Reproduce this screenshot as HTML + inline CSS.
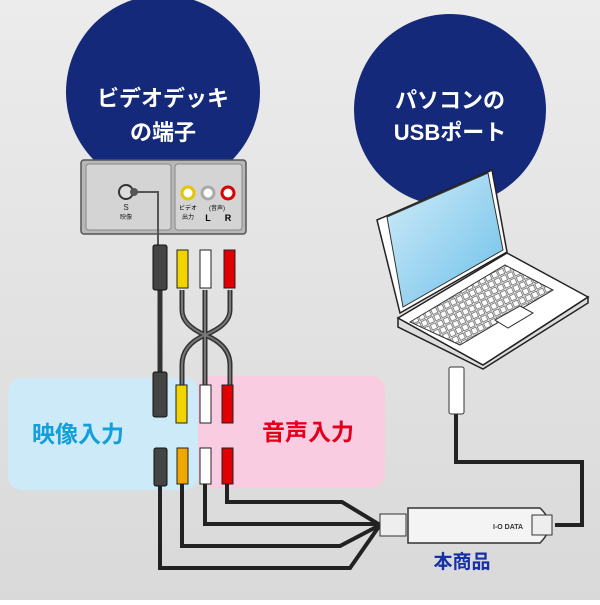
<!DOCTYPE html>
<html><head><meta charset="utf-8"><style>
html,body{margin:0;padding:0}
body{width:600px;height:600px;overflow:hidden;font-family:"Liberation Sans","Noto Sans CJK JP",sans-serif}
</style></head><body>
<svg width="600" height="600" viewBox="0 0 600 600" xmlns="http://www.w3.org/2000/svg" font-family="Liberation Sans, Noto Sans CJK JP, sans-serif">
<defs>
<linearGradient id="bg" x1="0" y1="0" x2="0" y2="1"><stop offset="0" stop-color="#ececec"/><stop offset="1" stop-color="#d9d9d9"/></linearGradient>
<linearGradient id="scr" x1="0" y1="0" x2="1" y2="1"><stop offset="0" stop-color="#d2ecf8"/><stop offset="1" stop-color="#6cc0ea"/></linearGradient>
<pattern id="kb" width="7" height="7" patternUnits="userSpaceOnUse" patternTransform="rotate(-25)"><rect width="7" height="7" fill="#fff"/><rect x="0.5" y="0.5" width="5.5" height="5.5" fill="none" stroke="#333" stroke-width="0.6"/></pattern>
</defs>
<rect width="600" height="600" fill="url(#bg)"/>
<circle cx="163" cy="92" r="97" fill="#15297a"/>
<circle cx="450" cy="110" r="96" fill="#15297a"/>
<text x="163" y="106" font-size="22" font-weight="bold" fill="#fff" text-anchor="middle">ビデオデッキ</text>
<text x="163" y="140" font-size="22" font-weight="bold" fill="#fff" text-anchor="middle">の端子</text>
<text x="450" y="108" font-size="22" font-weight="bold" fill="#fff" text-anchor="middle">パソコンの</text>
<text x="450" y="140" font-size="22" font-weight="bold" fill="#fff" text-anchor="middle">USBポート</text>
<!-- panel -->
<rect x="81" y="160" width="165" height="74" rx="3" fill="#b7b7b7" stroke="#555" stroke-width="1.5"/>
<rect x="86" y="164" width="85" height="66" rx="3" fill="#d4d4d4" stroke="#888"/>
<rect x="175" y="164" width="67" height="66" rx="3" fill="#d4d4d4" stroke="#888"/>
<circle cx="126" cy="192" r="7" fill="#ddd" stroke="#333" stroke-width="2"/>
<circle cx="134" cy="192" r="4" fill="#555"/>
<path d="M134 192 H158 V245" fill="none" stroke="#555" stroke-width="2"/>
<text x="126" y="210" font-size="8" text-anchor="middle" fill="#222">S</text>
<text x="126" y="219" font-size="6" text-anchor="middle" fill="#222">映像</text>
<circle cx="188" cy="193" r="6" fill="#fff" stroke="#e5c400" stroke-width="3"/>
<circle cx="208" cy="193" r="6" fill="#fff" stroke="#aaa" stroke-width="3"/>
<circle cx="228" cy="193" r="6" fill="#fff" stroke="#d00" stroke-width="3"/>
<text x="188" y="210" font-size="6" text-anchor="middle">ビデオ</text>
<text x="188" y="219" font-size="6" text-anchor="middle">出力</text>
<text x="217" y="210" font-size="6" text-anchor="middle">(音声)</text>
<text x="208" y="221" font-size="9" font-weight="bold" text-anchor="middle">L</text>
<text x="228" y="221" font-size="9" font-weight="bold" text-anchor="middle">R</text>
<!-- boxes -->
<rect x="8" y="378" width="190" height="112" rx="14" fill="#cdeaf8"/>
<rect x="198" y="376" width="187" height="112" rx="14" fill="#f9cce2"/>
<text x="78" y="442" font-size="23" font-weight="bold" fill="#139fd9" text-anchor="middle">映像入力</text>
<text x="308" y="440" font-size="23" font-weight="bold" fill="#e3001b" text-anchor="middle">音声入力</text>
<!-- cables upper -->
<g fill="none" stroke="#333" stroke-width="5">
<path d="M160 290 V380"/>
<path d="M182 290 V310 Q182 325 205 335 Q230 345 230 365 V385"/>
<path d="M230 290 V310 Q230 325 205 335 Q182 345 182 365 V385"/>
<path d="M205 290 V385"/>
</g>
<g fill="none" stroke="#777" stroke-width="2">
<path d="M182 290 V310 Q182 325 205 335 Q230 345 230 365 V385"/>
<path d="M230 290 V310 Q230 325 205 335 Q182 345 182 365 V385"/>
<path d="M205 290 V385"/>
</g>
<!-- top plugs -->
<rect x="153" y="245" width="14" height="45" rx="2" fill="#444" stroke="#111"/>
<rect x="177" y="250" width="11" height="38" fill="#f2d400" stroke="#222"/>
<rect x="200" y="250" width="11" height="38" fill="#fff" stroke="#222"/>
<rect x="224" y="250" width="11" height="38" fill="#e10000" stroke="#222"/>
<!-- middle plugs -->
<rect x="153" y="372" width="14" height="45" rx="2" fill="#444" stroke="#111"/>
<rect x="176" y="385" width="11" height="38" fill="#f2d400" stroke="#222"/>
<rect x="200" y="385" width="11" height="38" fill="#fff" stroke="#222"/>
<rect x="222" y="385" width="11" height="38" fill="#e10000" stroke="#222"/>
<!-- bottom plugs -->
<rect x="154" y="448" width="13" height="38" rx="2" fill="#444" stroke="#111"/>
<rect x="177" y="448" width="11" height="36" fill="#f0a800" stroke="#222"/>
<rect x="200" y="448" width="11" height="36" fill="#fff" stroke="#222"/>
<rect x="222" y="448" width="11" height="36" fill="#e10000" stroke="#222"/>
<!-- lower cables -->
<g fill="none" stroke="#222" stroke-width="4">
<path d="M160 486 V568 H350 L380 525"/>
<path d="M182 484 V546 H340 L380 525"/>
<path d="M205 484 V524 H380"/>
<path d="M227 484 V502 H342 L380 525"/>
<path d="M456 412 V462 H582 V525 H555"/>
</g>
<!-- device -->
<rect x="380" y="514" width="26" height="22" fill="#eee" stroke="#333"/>
<path d="M408 508 H540 Q558 525 540 543 H408 Z" fill="#f4f4f4" stroke="#333" stroke-width="1.5"/>
<rect x="532" y="515" width="20" height="20" fill="#eee" stroke="#333"/>
<text x="493" y="529" font-size="7" font-weight="bold" fill="#333">I-O DATA</text>
<text x="462" y="568" font-size="19" font-weight="bold" fill="#1630a6" text-anchor="middle">本商品</text>
<!-- USB plug -->
<rect x="449" y="367" width="15" height="47" rx="2" fill="#fff" stroke="#333"/>
<!-- laptop -->
<polygon points="398,318 483,365 588,297 588,303 483,369 398,327" fill="#ddd" stroke="#222" stroke-width="1.5"/>
<polygon points="398,318 507,253 588,297 483,365" fill="#fff" stroke="#222" stroke-width="1.5"/>
<polygon points="410,322 505,265 553,290 460,345" fill="url(#kb)" stroke="#333"/>
<polygon points="495,320 520,306 533,313 508,328" fill="#fff" stroke="#333"/>
<polygon points="377,220 492,170 507,252 400,313" fill="#fff" stroke="#222" stroke-width="1.5"/>
<polygon points="387,217 488,173 503,250 403,307" fill="url(#scr)" stroke="#333"/>
</svg>
</body></html>
